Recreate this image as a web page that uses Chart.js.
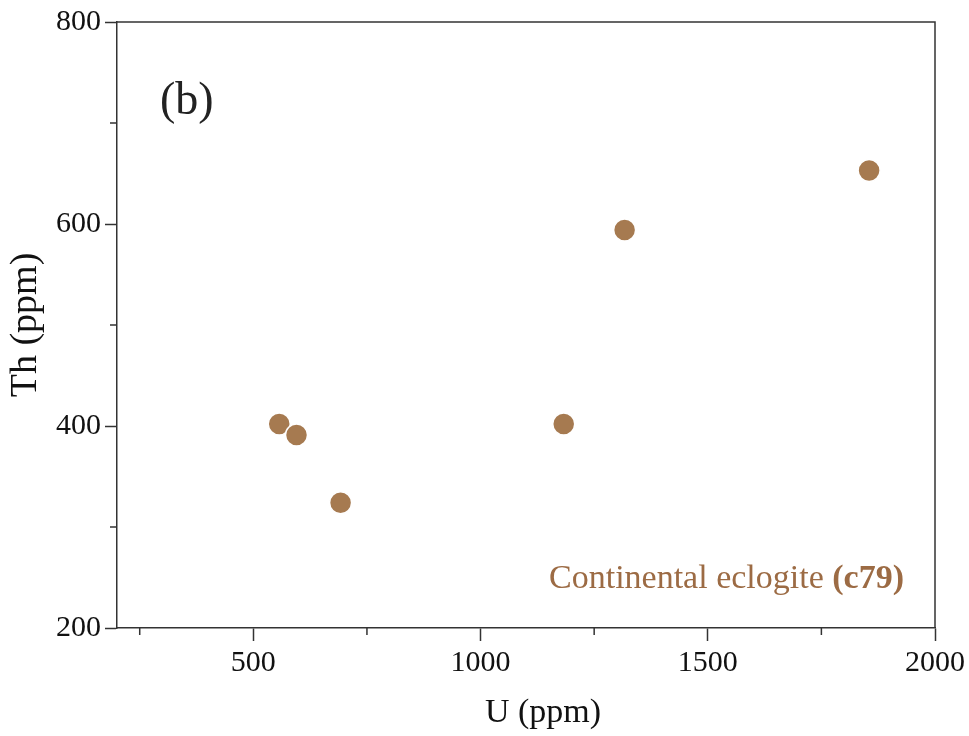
<!DOCTYPE html>
<html>
<head>
<meta charset="utf-8">
<script src="https://cdn.jsdelivr.net/npm/chart.js@4/dist/chart.umd.min.js"></script>
<style>
  html, body { margin: 0; padding: 0; background: #fff; }
  #wrap { width: 969px; height: 736px; position: relative; }
</style>
</head>
<body>
<div id="wrap"><canvas id="c" width="969" height="736"></canvas></div>
<script>
// ---- data ----
const uPpm  = [557, 595, 692, 1183, 1317, 1855];
const thPpm = [402, 391, 324, 402, 594, 653];
const xMajorTicks = [500, 1000, 1500, 2000];
const xMinorTicks = [250, 750, 1250, 1750];
const yMajorTicks = [200, 400, 600, 800];
const yMinorTicks = [300, 500, 700];
const xTitle = 'U (ppm)';
const yTitle = 'Th (ppm)';
const panelLabel = '(b)';
const seriesLabel = 'Continental eclogite ';
const seriesCode = '(c79)';

const AXIS = '#333333';
const PT = '#a67a50';
const TXT = '#9c6b44';
const SERIF = '"Liberation Serif", "Times New Roman", serif';

const extras = {
  id: 'extras',
  afterDraw(chart) {
    const ctx = chart.ctx, a = chart.chartArea;
    const xs = chart.scales.x, ys = chart.scales.y;
    ctx.save();
    ctx.strokeStyle = AXIS;
    ctx.lineWidth = 1.5;
    // top and right frame
    ctx.beginPath();
    ctx.moveTo(a.left, a.top); ctx.lineTo(a.right, a.top); ctx.lineTo(a.right, a.bottom);
    ctx.stroke();
    // minor ticks
    ctx.beginPath();
    xMinorTicks.forEach(v => { const p = xs.getPixelForValue(v); ctx.moveTo(p, a.bottom); ctx.lineTo(p, a.bottom + 7); });
    yMinorTicks.forEach(v => { const p = ys.getPixelForValue(v); ctx.moveTo(a.left, p); ctx.lineTo(a.left - 7, p); });
    ctx.stroke();
    // x axis title
    ctx.fillStyle = '#111';
    ctx.font = '34px ' + SERIF;
    ctx.textAlign = 'center';
    ctx.textBaseline = 'alphabetic';
    ctx.fillText(xTitle, 543, 722);
    // panel label
    ctx.fillStyle = '#222';
    ctx.font = '46px ' + SERIF;
    ctx.textAlign = 'left';
    ctx.fillText(panelLabel, 160, 114);
    // series label
    ctx.fillStyle = TXT;
    ctx.font = 'bold 34px ' + SERIF;
    const wB = ctx.measureText(seriesCode).width;
    const right = 904, base = 588;
    ctx.textAlign = 'right';
    ctx.fillText(seriesCode, right, base);
    ctx.font = '34px ' + SERIF;
    ctx.fillText(seriesLabel, right - wB, base);
    ctx.restore();
  }
};

new Chart(document.getElementById('c'), {
  type: 'scatter',
  data: {
    datasets: [{
      data: uPpm.map((u, i) => ({ x: u, y: thPpm[i] })),
      backgroundColor: PT,
      borderColor: '#ffffff',
      borderWidth: 1.5,
      pointRadius: 11,
      pointHoverRadius: 11
    }]
  },
  options: {
    responsive: false,
    animation: false,
    events: [],
    layout: { padding: { top: 20, right: 34, left: 0, bottom: 0 } },
    plugins: { legend: { display: false }, tooltip: { enabled: false } },
    scales: {
      x: {
        type: 'linear', min: 200, max: 2000,
        afterBuildTicks(s) { s.ticks = xMajorTicks.map(v => ({ value: v })); },
        afterFit(s) { s.height = 108; },
        border: { display: true, color: AXIS, width: 1.5 },
        grid: { display: true, drawOnChartArea: false, drawTicks: true, tickLength: 13, tickColor: AXIS, tickWidth: 1.5 },
        ticks: { color: '#111', font: { family: SERIF, size: 30 }, padding: 4, maxRotation: 0, callback: v => String(v) },
        title: { display: false }
      },
      y: {
        type: 'linear', min: 200, max: 800,
        afterBuildTicks(s) { s.ticks = yMajorTicks.map(v => ({ value: v })); },
        afterFit(s) { s.width = 117; },
        border: { display: true, color: AXIS, width: 1.5 },
        grid: { display: true, drawOnChartArea: false, drawTicks: true, tickLength: 12, tickColor: AXIS, tickWidth: 1.5 },
        ticks: { color: '#111', font: { family: SERIF, size: 30 }, padding: 4, callback: v => String(v) },
        title: { display: true, text: yTitle, color: '#111', font: { family: SERIF, size: 38 }, padding: { top: 3, bottom: 0 } }
      }
    }
  },
  plugins: [extras]
});
</script>
</body>
</html>
